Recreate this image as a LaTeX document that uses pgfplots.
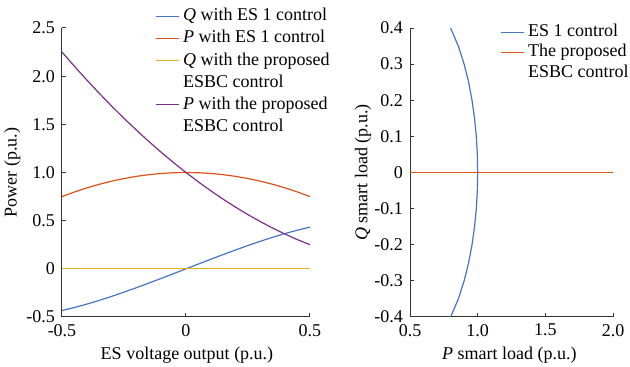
\documentclass[border=0pt]{standalone}
\usepackage{pgfplots}
\pgfplotsset{compat=1.18}
\usepackage{fontspec}
\setmainfont{Liberation Serif}
\definecolor{mblue}{rgb}{0.27,0.46,0.78}
\definecolor{morange}{rgb}{0.85,0.325,0.098}
\definecolor{myellow}{rgb}{0.929,0.694,0.125}
\definecolor{mpurple}{rgb}{0.494,0.184,0.556}
\pgfplotsset{
  common/.style={
    scale only axis,
    height=144.5pt,
    axis x line*=bottom, axis y line*=left,
    axis line style={-, black!80, line width=0.5pt},
    tick align=inside,
    major tick length=2.2pt,
    tick style={black!80, line width=0.5pt},
    font=\fontsize{9}{10.5}\selectfont,
    every tick label/.append style={font=\fontsize{9}{10.5}\selectfont},
    legend style={draw=none, fill=none, inner sep=0pt, outer sep=0pt,
      font=\fontsize{9}{10.5}\selectfont,
      nodes={inner sep=0pt, text height=6.4pt, text depth=1.9pt},
      column sep=2pt},
    legend cell align=left,
    legend image code/.code={\draw[#1] (0pt,0pt) -- (11.5pt,0pt);},
    every axis plot/.append style={line width=0.6pt, mark=none},
  }
}
\begin{document}
\begin{tikzpicture}
\useasboundingbox (-31pt,-25pt) rectangle (284pt,158.5pt);
\begin{axis}[common,
  at={(0pt,0pt)}, anchor=south west,
  width=124pt,
  xmin=-0.5, xmax=0.5, ymin=-0.5, ymax=2.5,
  xtick={-0.5,0,0.5}, xticklabels={-0.5,0,0.5},
  ytick={-0.5,0,0.5,1,1.5,2,2.5},
  yticklabels={-0.5,0,0.5,1.0,1.5,2.0,2.5},
  xlabel={ES voltage output (p.u.)},
  ylabel={Power (p.u.)},
  xlabel style={at={(axis description cs:0.504,-0.131)}, anchor=center},
  ylabel style={at={(axis description cs:-0.2,0.5)}, anchor=center},
  legend style={at={(0.375,1.069)}, anchor=north west, row sep=2.75pt},
]
\addplot[mblue] coordinates {(-0.5,-0.4330) (-0.45,-0.4019) (-0.4,-0.3666) (-0.35,-0.3279) (-0.3,-0.2862) (-0.25,-0.2421) (-0.2,-0.1960) (-0.15,-0.1483) (-0.1,-0.0995) (-0.05,-0.0499) (0,0) (0.05,0.0499) (0.1,0.0995) (0.15,0.1483) (0.2,0.1960) (0.25,0.2421) (0.3,0.2862) (0.35,0.3279) (0.4,0.3666) (0.45,0.4019) (0.5,0.4330)};
\addlegendentry{\textit{Q} with ES 1 control}
\addplot[morange] coordinates {(-0.5,0.75) (-0.45,0.7975) (-0.4,0.84) (-0.35,0.8775) (-0.3,0.91) (-0.25,0.9375) (-0.2,0.96) (-0.15,0.9775) (-0.1,0.99) (-0.05,0.9975) (0,1) (0.05,0.9975) (0.1,0.99) (0.15,0.9775) (0.2,0.96) (0.25,0.9375) (0.3,0.91) (0.35,0.8775) (0.4,0.84) (0.45,0.7975) (0.5,0.75)};
\addlegendentry{\textit{P} with ES 1 control}
\addplot[myellow] coordinates {(-0.5,0) (0.5,0)};
\addlegendentry{\textit{Q} with the proposed}
\addlegendimage{empty legend}
\addlegendentry{ESBC control}
\addplot[mpurple] coordinates {(-0.5,2.25) (-0.45,2.1025) (-0.4,1.96) (-0.35,1.8225) (-0.3,1.69) (-0.25,1.5625) (-0.2,1.44) (-0.15,1.3225) (-0.1,1.21) (-0.05,1.1025) (0,1) (0.05,0.9025) (0.1,0.81) (0.15,0.7225) (0.2,0.64) (0.25,0.5625) (0.3,0.49) (0.35,0.4225) (0.4,0.36) (0.45,0.3025) (0.5,0.25)};
\addlegendentry{\textit{P} with the proposed}
\addlegendimage{empty legend}
\addlegendentry{ESBC control}
\end{axis}
\begin{axis}[common,
  at={(174pt,0pt)}, anchor=south west,
  width=101.5pt,
  xmin=0.5, xmax=2, ymin=-0.4, ymax=0.4,
  xtick={0.5,1,1.5,2}, xticklabels={0.5,1.0,1.5,2.0},
  ytick={-0.4,-0.3,-0.2,-0.1,0,0.1,0.2,0.3,0.4},
  yticklabels={-0.4,-0.3,-0.2,-0.1,0,0.1,0.2,0.3,0.4},
  xlabel={\textit{P} smart load (p.u.)},
  ylabel={\textit{Q} smart load (p.u.)},
  xlabel style={at={(axis description cs:0.49,-0.131)}, anchor=center},
  ylabel style={at={(axis description cs:-0.2315,0.5)}, anchor=center},
  legend style={at={(0.443,1.014)}, anchor=north west, row sep=1.8pt},
]
\addplot[mblue] coordinates {(0.8,-0.4) (0.8571,-0.35) (0.9,-0.3) (0.9330,-0.25) (0.9583,-0.2) (0.9770,-0.15) (0.9899,-0.1) (0.9975,-0.05) (1,0) (0.9975,0.05) (0.9899,0.1) (0.9770,0.15) (0.9583,0.2) (0.9330,0.25) (0.9,0.3) (0.8571,0.35) (0.8,0.4)};
\addlegendentry{ES 1 control}
\addplot[morange] coordinates {(0.5,0) (2,0)};
\addlegendentry{The proposed}
\addlegendimage{empty legend}
\addlegendentry{ESBC control}
\end{axis}
\end{tikzpicture}
\end{document}
